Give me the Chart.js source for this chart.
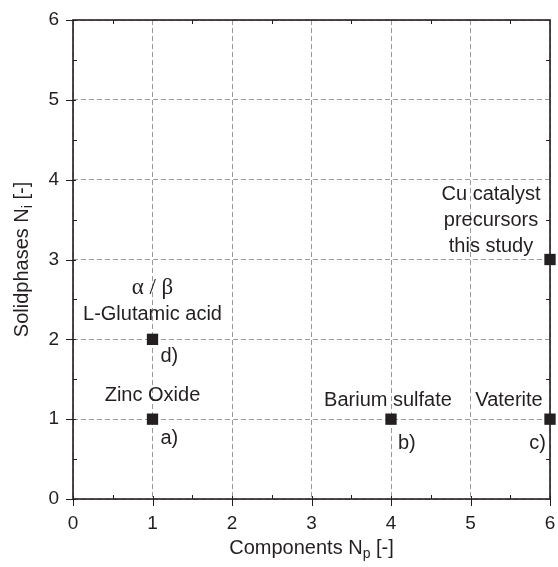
<!DOCTYPE html>
<html>
<head>
<meta charset="utf-8">
<script src="https://cdn.jsdelivr.net/npm/chart.js@4.4.0/dist/chart.umd.min.js"></script>
<style>
  html, body { margin: 0; padding: 0; background: #fff; }
  #wrap { width: 558px; height: 567px; position: relative; }
</style>
</head>
<body>
<div id="wrap"><canvas id="grafico"></canvas></div>
<script>
// dados
const components = [1, 4, 6, 1, 6];
const solidphases = [1, 1, 1, 2, 3];
const pointNames = [
  ['Zinc Oxide'],
  ['Barium sulfate'],
  ['Vaterite'],
  ['α / β', 'L-Glutamic acid'],
  ['Cu catalyst', 'precursors', 'this study']
];
const pointTags = ['a)', 'b)', 'c)', 'd)', ''];
const axisMin = 0;
const axisMax = 6;
const xTitle = ['Components N', 'p', ' [-]'];
const yTitle = ['Solidphases N', 'i', ' [-]'];

const ink = '#231f20';
const fontSans = "'Liberation Sans', Arial, sans-serif";
const fontSerif = "'Liberation Serif', 'Times New Roman', serif";

// deslocamentos (px) dos rótulos em relação ao ponto
const labelOffsets = [
  { dx: 0, dy: [-18], tx: 8, ty: 25, align: 'left' },
  { dx: -3, dy: [-13], tx: 7, ty: 30, align: 'left' },
  { dx: -41, dy: [-13], tx: -4, ty: 30, align: 'right' },
  { dx: 0, dy: [-45, -19], tx: 8, ty: 23, align: 'left' },
  { dx: -59, dy: [-60, -34, -8], tx: 0, ty: 0, align: 'left' }
];

function drawSubText(ctx, parts, size) {
  ctx.font = size + 'px ' + fontSans;
  const w1 = ctx.measureText(parts[0]).width;
  const w3 = ctx.measureText(parts[2]).width;
  ctx.font = Math.round(size * 0.7) + 'px ' + fontSans;
  const w2 = ctx.measureText(parts[1]).width;
  let x = -(w1 + w2 + w3) / 2;
  ctx.textAlign = 'left';
  ctx.textBaseline = 'alphabetic';
  ctx.font = size + 'px ' + fontSans;
  ctx.fillText(parts[0], x, 0);
  x += w1;
  ctx.font = Math.round(size * 0.7) + 'px ' + fontSans;
  ctx.fillText(parts[1], x, 4);
  x += w2;
  ctx.font = size + 'px ' + fontSans;
  ctx.fillText(parts[2], x, 0);
}

const moldura = {
  id: 'moldura',
  afterDraw(chart) {
    const { ctx, chartArea: a, scales: { x, y } } = chart;
    ctx.save();
    ctx.strokeStyle = ink;
    ctx.lineWidth = 1;
    // ticks
    ctx.beginPath();
    for (let v = axisMin; v <= axisMax; v += 0.5) {
      const px = Math.round(x.getPixelForValue(v)) + 0.5;
      const py = Math.round(y.getPixelForValue(v)) + 0.5;
      if (v % 1 === 0) {
        ctx.moveTo(px, a.bottom - 3); ctx.lineTo(px, a.bottom + 7);
        ctx.moveTo(a.left + 3, py); ctx.lineTo(a.left - 7, py);
      } else {
        ctx.moveTo(px, a.bottom); ctx.lineTo(px, a.bottom - 4);
        ctx.moveTo(px, a.top); ctx.lineTo(px, a.top + 4);
        ctx.moveTo(a.left, py); ctx.lineTo(a.left + 4, py);
        ctx.moveTo(a.right, py); ctx.lineTo(a.right - 4, py);
      }
    }
    ctx.stroke();
    // eixos
    ctx.lineWidth = 1.6;
    ctx.strokeRect(a.left, a.top, a.right - a.left, a.bottom - a.top);

    // rótulos dos pontos
    ctx.fillStyle = ink;
    ctx.textBaseline = 'alphabetic';
    components.forEach((cx, i) => {
      const px = x.getPixelForValue(cx);
      const py = y.getPixelForValue(solidphases[i]);
      const off = labelOffsets[i];
      pointNames[i].forEach((line, j) => {
        ctx.font = (/[αβ]/.test(line) ? '23px ' + fontSerif : '20px ' + fontSans);
        ctx.textAlign = 'center';
        ctx.fillText(line, px + off.dx, py + off.dy[j]);
      });
      if (pointTags[i]) {
        ctx.font = '20px ' + fontSans;
        ctx.textAlign = off.align;
        ctx.fillText(pointTags[i], px + off.tx, py + off.ty);
      }
    });

    // títulos dos eixos
    ctx.save();
    ctx.translate((a.left + a.right) / 2, 554);
    drawSubText(ctx, xTitle, 20);
    ctx.restore();
    ctx.save();
    ctx.translate(28, (a.top + a.bottom) / 2);
    ctx.rotate(-Math.PI / 2);
    drawSubText(ctx, yTitle, 20);
    ctx.restore();
    ctx.restore();
  }
};

const gridCommon = { color: '#9a9a9a', lineWidth: 1, drawTicks: false };

new Chart(document.getElementById('grafico').getContext('2d'), {
  type: 'scatter',
  data: {
    datasets: [{
      data: components.map((c, i) => ({ x: c, y: solidphases[i] })),
      pointStyle: 'rect',
      pointRadius: 8,
      pointHoverRadius: 8,
      backgroundColor: ink,
      borderColor: ink,
      borderWidth: 0,
      clip: false
    }]
  },
  options: {
    responsive: true, maintainAspectRatio: false, animation: false,
    layout: { padding: { left: 0, right: 3, top: 20, bottom: 0 } },
    plugins: { legend: { display: false }, tooltip: { enabled: false } },
    scales: {
      x: {
        type: 'linear', min: axisMin, max: axisMax,
        grid: gridCommon,
        border: { display: false, dash: [5, 3] },
        ticks: { stepSize: 1, color: ink, padding: 13, font: { family: fontSans, size: 19 } },
        afterFit: (s) => { s.height = 68; s.paddingLeft = 0; s.paddingRight = 0; }
      },
      y: {
        type: 'linear', min: axisMin, max: axisMax,
        grid: gridCommon,
        border: { display: false, dash: [5, 3] },
        ticks: { stepSize: 1, color: ink, padding: 14, font: { family: fontSans, size: 19 } },
        afterFit: (s) => { s.width = 73; s.paddingTop = 0; s.paddingBottom = 0; }
      }
    }
  },
  plugins: [moldura]
});
</script>
</body>
</html>
